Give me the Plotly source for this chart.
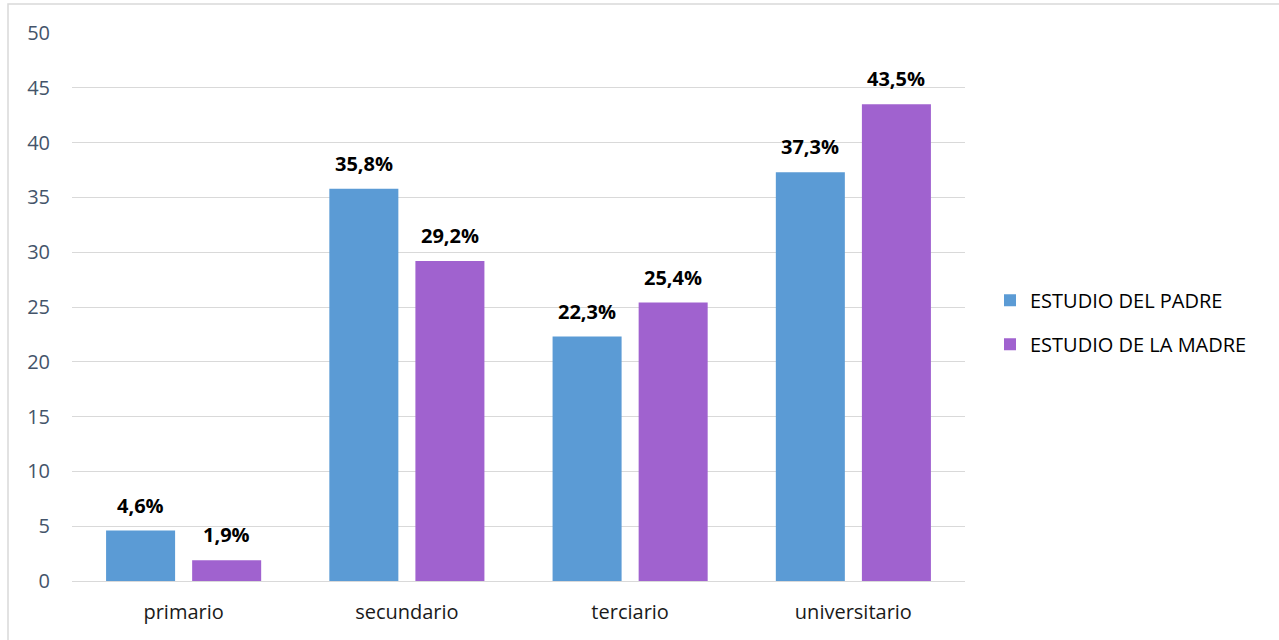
import plotly.graph_objects as go

categories = ["primario", "secundario", "terciario", "universitario"]
padre = [4.6, 35.8, 22.3, 37.3]
madre = [1.9, 29.2, 25.4, 43.5]
series_names = ["ESTUDIO DEL PADRE", "ESTUDIO DE LA MADRE"]
colors = ["#5B9BD5", "#A062CF"]
y_ticks = [0, 5, 10, 15, 20, 25, 30, 35, 40, 45, 50]

FONT = "Open Sans"

fig = go.Figure()
for i, (name, vals) in enumerate([(series_names[0], padre), (series_names[1], madre)]):
    fig.add_trace(go.Bar(
        x=categories, y=vals, name=name,
        marker=dict(color=colors[i], line=dict(width=0)),
        legendgroup=f"g{i}",
    ))

annotations = []
for i, vals in enumerate([padre, madre]):
    shift = -43 if i == 0 else 43
    for c, v in zip(categories, vals):
        annotations.append(dict(
            x=c, y=v, xref="x", yref="y",
            text=f"<b>{v:.1f}%</b>".replace(".", ","),
            showarrow=False, xshift=shift, yshift=10,
            yanchor="bottom", xanchor="center",
            font=dict(family=FONT, size=20, color="#000000"),
        ))

fig.update_layout(
    width=1279, height=640,
    margin=dict(l=72, r=314, t=33, b=59),
    paper_bgcolor="white", plot_bgcolor="white",
    barmode="group", bargap=0.229, bargroupgap=0.198,
    font=dict(family=FONT),
    annotations=annotations,
    showlegend=True,
    legend=dict(
        x=1.028, y=0.472, xanchor="left", yanchor="middle",
        font=dict(family=FONT, size=20, color="#000000"),
        tracegroupgap=15, itemwidth=30,
        bgcolor="rgba(0,0,0,0)",
    ),
    xaxis=dict(
        showgrid=False, showline=False, zeroline=False,
        tickfont=dict(family=FONT, size=20, color="#1A1A1A"),
        ticks="", ticklabelstandoff=17,
    ),
    yaxis=dict(
        range=[0, 50], tickvals=y_ticks,
        showgrid=True, gridcolor="#D9D9D9", gridwidth=1,
        zeroline=True, zerolinecolor="#D9D9D9", zerolinewidth=1,
        showline=False,
        tickfont=dict(family=FONT, size=20, color="#44546A"),
        ticklabelstandoff=21,
    ),
    shapes=[dict(
        type="rect", xref="paper", yref="paper",
        x0=-64/893, x1=(1290 - 72) / 893,
        y0=-(660 - 581) / 548, y1=(581 - 4) / 548,
        line=dict(color="#D9D9D9", width=1.5), fillcolor="rgba(0,0,0,0)",
        layer="below",
    )],
)

fig.write_html("out.html")
